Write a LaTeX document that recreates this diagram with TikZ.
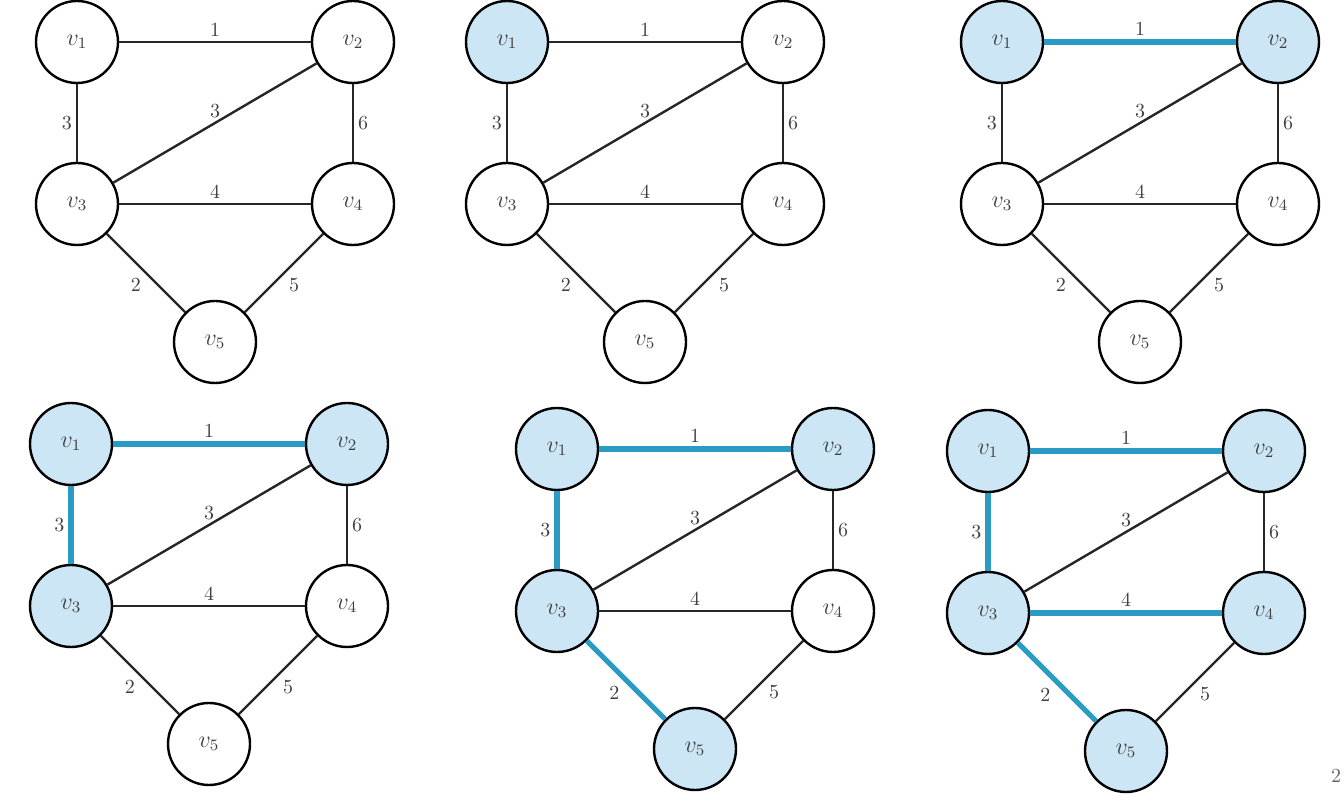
\documentclass[tikz,border=0pt]{standalone}
\usepackage{xcolor}
\usepackage{tikz}
\definecolor{treeblue}{RGB}{42,156,196}
\definecolor{treefill}{RGB}{204,230,246}
\tikzset{
  vertex/.style={draw, circle, line width=1.2pt, minimum size=41pt, inner sep=0pt, fill=white, text=black!75, font=\large},
  vertexin/.style={vertex, fill=treefill},
  gedge/.style={line width=1.2pt, black!85},
  treeedge/.style={line width=2.6pt, treeblue},
  wt/.style={font=\fontsize{10}{12}\selectfont, text=black!75, inner sep=2pt}
}

\begin{document}
\begin{tikzpicture}[x=0.5pt, y=-0.5pt]
\useasboundingbox (0,0) rectangle (1344,801);

% step 0: nothing chosen yet
\begin{scope}[shift={(77,42)}]
\node[vertex] (a1) at (0,0) {$v_1$};
\node[vertex] (a2) at (276,0) {$v_2$};
\node[vertex] (a3) at (0,162) {$v_3$};
\node[vertex] (a4) at (276,162) {$v_4$};
\node[vertex] (a5) at (138,300) {$v_5$};
\draw[gedge] (a1) -- node[wt,above] {1} (a2);
\draw[gedge] (a1) -- node[wt,left] {3} (a3);
\draw[gedge] (a3) -- node[wt,above] {3} (a2);
\draw[gedge] (a2) -- node[wt,right] {6} (a4);
\draw[gedge] (a3) -- node[wt,above] {4} (a4);
\draw[gedge] (a3) -- node[wt,below left] {2} (a5);
\draw[gedge] (a4) -- node[wt,below right] {5} (a5);
\end{scope}

% step 1: start at v1
\begin{scope}[shift={(507,42)}]
\node[vertexin] (b1) at (0,0) {$v_1$};
\node[vertex] (b2) at (276,0) {$v_2$};
\node[vertex] (b3) at (0,162) {$v_3$};
\node[vertex] (b4) at (276,162) {$v_4$};
\node[vertex] (b5) at (138,300) {$v_5$};
\draw[gedge] (b1) -- node[wt,above] {1} (b2);
\draw[gedge] (b1) -- node[wt,left] {3} (b3);
\draw[gedge] (b3) -- node[wt,above] {3} (b2);
\draw[gedge] (b2) -- node[wt,right] {6} (b4);
\draw[gedge] (b3) -- node[wt,above] {4} (b4);
\draw[gedge] (b3) -- node[wt,below left] {2} (b5);
\draw[gedge] (b4) -- node[wt,below right] {5} (b5);
\end{scope}

% step 2: add v2
\begin{scope}[shift={(1002,42)}]
\node[vertexin] (c1) at (0,0) {$v_1$};
\node[vertexin] (c2) at (276,0) {$v_2$};
\node[vertex] (c3) at (0,162) {$v_3$};
\node[vertex] (c4) at (276,162) {$v_4$};
\node[vertex] (c5) at (138,300) {$v_5$};
\draw[treeedge] (c1) -- node[wt,above] {1} (c2);
\draw[gedge] (c1) -- node[wt,left] {3} (c3);
\draw[gedge] (c3) -- node[wt,above] {3} (c2);
\draw[gedge] (c2) -- node[wt,right] {6} (c4);
\draw[gedge] (c3) -- node[wt,above] {4} (c4);
\draw[gedge] (c3) -- node[wt,below left] {2} (c5);
\draw[gedge] (c4) -- node[wt,below right] {5} (c5);
\end{scope}

% step 3: add v3
\begin{scope}[shift={(71,444)}]
\node[vertexin] (d1) at (0,0) {$v_1$};
\node[vertexin] (d2) at (276,0) {$v_2$};
\node[vertexin] (d3) at (0,162) {$v_3$};
\node[vertex] (d4) at (276,162) {$v_4$};
\node[vertex] (d5) at (138,300) {$v_5$};
\draw[treeedge] (d1) -- node[wt,above] {1} (d2);
\draw[treeedge] (d1) -- node[wt,left] {3} (d3);
\draw[gedge] (d3) -- node[wt,above] {3} (d2);
\draw[gedge] (d2) -- node[wt,right] {6} (d4);
\draw[gedge] (d3) -- node[wt,above] {4} (d4);
\draw[gedge] (d3) -- node[wt,below left] {2} (d5);
\draw[gedge] (d4) -- node[wt,below right] {5} (d5);
\end{scope}

% step 4: add v5
\begin{scope}[shift={(557,449)}]
\node[vertexin] (e1) at (0,0) {$v_1$};
\node[vertexin] (e2) at (276,0) {$v_2$};
\node[vertexin] (e3) at (0,162) {$v_3$};
\node[vertex] (e4) at (276,162) {$v_4$};
\node[vertexin] (e5) at (138,300) {$v_5$};
\draw[treeedge] (e1) -- node[wt,above] {1} (e2);
\draw[treeedge] (e1) -- node[wt,left] {3} (e3);
\draw[gedge] (e3) -- node[wt,above] {3} (e2);
\draw[gedge] (e2) -- node[wt,right] {6} (e4);
\draw[gedge] (e3) -- node[wt,above] {4} (e4);
\draw[treeedge] (e3) -- node[wt,below left] {2} (e5);
\draw[gedge] (e4) -- node[wt,below right] {5} (e5);
\end{scope}

% step 5: add v4, tree done
\begin{scope}[shift={(988,451)}]
\node[vertexin] (f1) at (0,0) {$v_1$};
\node[vertexin] (f2) at (276,0) {$v_2$};
\node[vertexin] (f3) at (0,162) {$v_3$};
\node[vertexin] (f4) at (276,162) {$v_4$};
\node[vertexin] (f5) at (138,300) {$v_5$};
\draw[treeedge] (f1) -- node[wt,above] {1} (f2);
\draw[treeedge] (f1) -- node[wt,left] {3} (f3);
\draw[gedge] (f3) -- node[wt,above] {3} (f2);
\draw[gedge] (f2) -- node[wt,right] {6} (f4);
\draw[treeedge] (f3) -- node[wt,above] {4} (f4);
\draw[treeedge] (f3) -- node[wt,below left] {2} (f5);
\draw[gedge] (f4) -- node[wt,below right] {5} (f5);
\end{scope}

\node[wt, text=black!60] (pagenum) at (1336,776) {2};
\end{tikzpicture}
\end{document}
